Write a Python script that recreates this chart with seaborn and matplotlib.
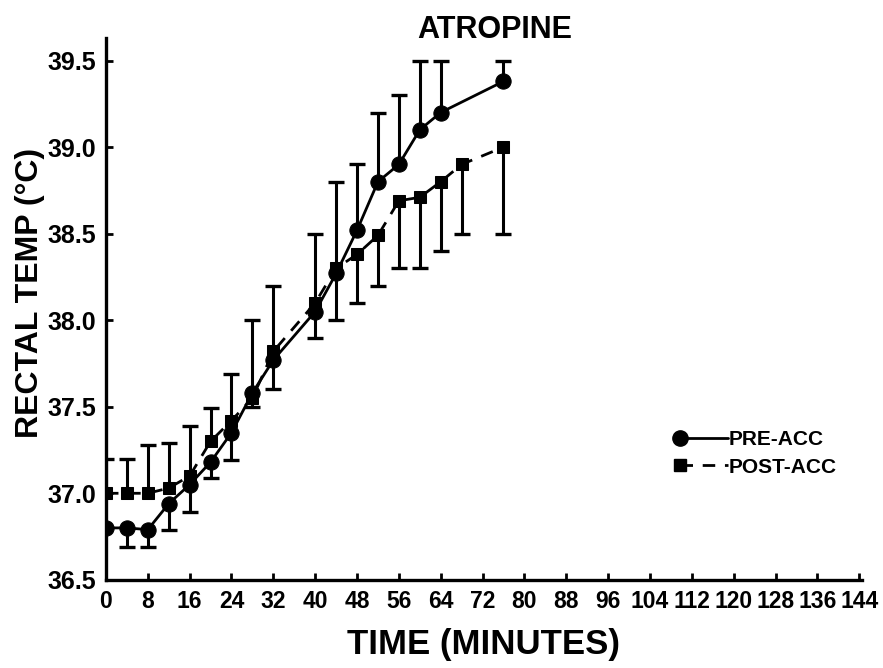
import numpy as np
import pandas as pd
import matplotlib
matplotlib.use("Agg")
import matplotlib.pyplot as plt
from matplotlib.lines import Line2D
from matplotlib.legend_handler import HandlerLine2D
import seaborn as sns

# data
pre_time = [0, 4, 8, 12, 16, 20, 24, 28, 32, 40, 44, 48, 52, 56, 60, 64, 76]
pre_temp = [36.80, 36.80, 36.79, 36.94, 37.05, 37.18, 37.35, 37.58, 37.77,
            38.05, 38.27, 38.52, 38.80, 38.90, 39.10, 39.20, 39.38]
pre_err_lo = [np.nan, 36.69, 36.69, 36.79, 36.89, 37.09, 37.19] + [np.nan] * 10
pre_err_hi = [np.nan] * 7 + [38.0, 38.2, 38.5, 38.8, 38.9, 39.2, 39.3, 39.5, 39.5, 39.5]

post_time = [0, 4, 8, 12, 16, 20, 24, 28, 32, 40, 44, 48, 52, 56, 60, 64, 68, 76]
post_temp = [37.00, 37.00, 37.00, 37.03, 37.10, 37.30, 37.42, 37.55, 37.82,
             38.10, 38.30, 38.38, 38.49, 38.69, 38.71, 38.80, 38.90, 39.00]
post_err_hi = [37.2, 37.2, 37.28, 37.29, 37.39, 37.49, 37.69] + [np.nan] * 11
post_err_lo = [np.nan] * 7 + [37.5, 37.6, 37.9, 38.0, 38.1, 38.2, 38.3, 38.3, 38.4, 38.5, 38.5]

x_ticks = list(range(0, 145, 8))
y_ticks = [36.5, 37.0, 37.5, 38.0, 38.5, 39.0, 39.5]

sns.set_theme(style="ticks")
plt.rcParams["font.family"] = ["Liberation Sans", "DejaVu Sans"]
plt.rcParams["font.weight"] = "bold"
plt.rcParams["text.color"] = "black"
plt.rcParams["axes.labelcolor"] = "black"

DASH = [4.5, 3.5]


class MarkerFirst(HandlerLine2D):
    # marker at the left end of the legend line, as in the original
    def create_artists(self, *args, **kwargs):
        artists = super().create_artists(*args, **kwargs)
        for a in artists:
            a.set_markevery([0])
        return artists


def draw_bars(ax, t, mid, ends):
    t, mid, ends = np.array(t), np.array(mid), np.array(ends)
    ok = ~np.isnan(ends)
    ax.vlines(t[ok], mid[ok], ends[ok], color="black", lw=2.2, zorder=2)
    ax.plot(t[ok], ends[ok], ls="none", marker="_", ms=11, mew=2.4, color="black", zorder=2)


pre_df = pd.DataFrame({"time": pre_time, "temp": pre_temp})
post_df = pd.DataFrame({"time": post_time, "temp": post_temp})

fig = plt.figure(figsize=(8.83, 6.68), dpi=100)
ax = fig.add_axes([0.12, 0.132, 0.856, 0.811])

draw_bars(ax, pre_time, pre_temp, pre_err_lo)
draw_bars(ax, pre_time, pre_temp, pre_err_hi)
draw_bars(ax, post_time, post_temp, post_err_lo)
draw_bars(ax, post_time, post_temp, post_err_hi)

sns.lineplot(data=post_df, x="time", y="temp", ax=ax, color="black", lw=2.0,
             marker="s", markersize=9, markeredgecolor="black", zorder=3)
ax.lines[-1].set_dashes(DASH)
sns.lineplot(data=pre_df, x="time", y="temp", ax=ax, color="black", lw=2.0,
             marker="o", markersize=11, markeredgecolor="black", zorder=4)

ax.set_xlim(0, 144.5)
ax.set_ylim(36.5, 39.63)
ax.set_xticks(x_ticks)
ax.set_yticks(y_ticks)
ax.set_yticklabels([f"{v:.1f}" for v in y_ticks])
ax.tick_params(direction="in", length=5, width=2, colors="black")
ax.tick_params(axis="x", pad=7, labelsize=16.5)
ax.tick_params(axis="y", pad=7, labelsize=18)
for lab in ax.get_xticklabels() + ax.get_yticklabels():
    lab.set_fontweight("bold")

sns.despine(ax=ax)
for side in ["left", "bottom"]:
    ax.spines[side].set_linewidth(2.4)
    ax.spines[side].set_color("black")

ax.set_xlabel("TIME (MINUTES)", fontsize=25, fontweight="bold", labelpad=11)
ax.set_ylabel("RECTAL TEMP (°C)", fontsize=23, fontweight="bold")
ax.yaxis.set_label_coords(-0.08, 0.53)
fig.text(0.56, 0.955, "ATROPINE", ha="center", va="center", fontsize=22, fontweight="bold")

pre_h = Line2D([], [], color="black", lw=2.0, marker="o", markersize=11)
post_h = Line2D([], [], color="black", lw=2.0, marker="s", markersize=9, dashes=DASH)
ax.legend([pre_h, post_h], ["PRE-ACC", "POST-ACC"],
          loc="center left", bbox_to_anchor=(0.735, 0.233), frameon=False,
          handlelength=2.3, handletextpad=0.0, labelspacing=0.4,
          handler_map={pre_h: MarkerFirst(), post_h: MarkerFirst()},
          prop={"size": 15, "weight": "bold"})

fig.savefig("out.png", dpi=100)
